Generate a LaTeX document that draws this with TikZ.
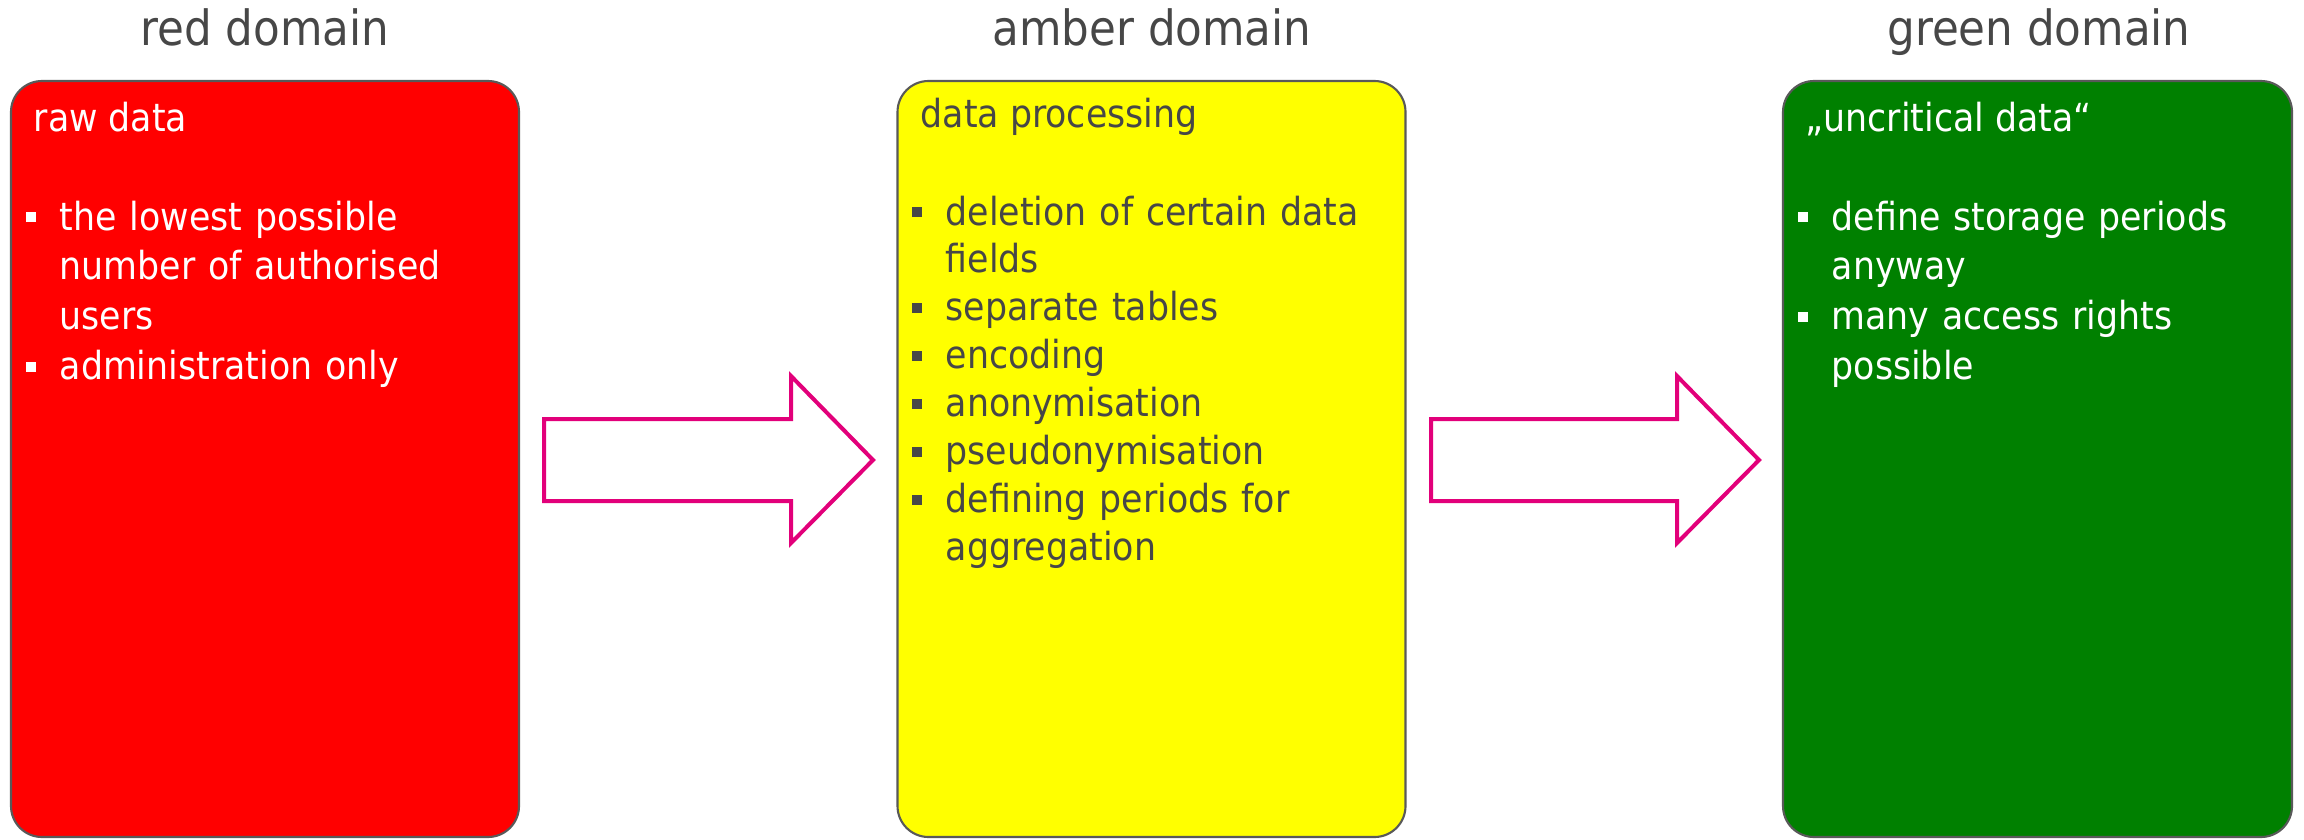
\documentclass[tikz,border=0pt]{standalone}
\usepackage{fontspec}
\setmainfont{DejaVu Sans Condensed}
\definecolor{textgray}{HTML}{474747}
\definecolor{boxgray}{HTML}{595959}
\definecolor{redfill}{HTML}{FF0000}
\definecolor{amberfill}{HTML}{FFFF00}
\definecolor{greenfill}{HTML}{008000}
\definecolor{arrowmagenta}{HTML}{E2007A}
\newcommand{\sq}{\leavevmode\llap{\rule[0.08cm]{0.1cm}{0.1cm}\hspace{0.24cm}}}
\tikzset{
  domainbox/.style={draw=boxgray, line width=0.6pt, rounded corners=0.31cm,
    minimum width=5.08cm, minimum height=7.56cm},
  domaintitle/.style={anchor=base, inner sep=0pt, text=textgray,
    font=\fontsize{13.8}{17}\selectfont},
  boxhead/.style={anchor=base west, inner sep=0pt,
    font=\fontsize{11}{14.2}\selectfont},
  itemtext/.style={anchor=base west, inner sep=0pt, align=left, text width=4.5cm,
    font=\fontsize{11}{14.2}\selectfont},
  blockarrow/.style={draw=arrowmagenta, line width=1.14pt}
}
\begin{document}
\begin{tikzpicture}
\useasboundingbox (0,0) rectangle (23.04,8.39);
% the three domains
\node[domainbox, fill=redfill] (red) at (2.65,3.80) {};
\node[domainbox, fill=amberfill] (amber) at (11.515,3.80) {};
\node[domainbox, fill=greenfill, minimum width=5.09cm] (green) at (20.375,3.80) {};
\node[domaintitle] (redtitle) at (2.65,7.94) {red domain};
\node[domaintitle] (ambertitle) at (11.52,7.94) {amber domain};
\node[domaintitle] (greentitle) at (20.39,7.94) {green domain};
% red
\node[boxhead, text=white] (rawdata) at (0.33,7.08) {raw data};
\node[itemtext, text=white] (redlist) at (0.59,6.09)
  {\sq the lowest possible\\number of authorised\\users\\\sq administration only};
% amber
\node[boxhead, text=textgray, font=\fontsize{11}{13.65}\selectfont] (processing) at (9.20,7.12) {data processing};
\node[itemtext, text=textgray, font=\fontsize{11}{13.65}\selectfont] (amberlist) at (9.45,6.14)
  {\sq deletion of certain data\\fields\\\sq separate tables\\\sq encoding\\\sq anonymisation\\\sq pseudonymisation\\\sq defining periods for\\aggregation};
% green
\node[boxhead, text=white] (uncritical) at (18.05,7.08) {„uncritical data“};
\node[itemtext, text=white] (greenlist) at (18.31,6.09)
  {\sq define storage periods\\anyway\\\sq many access rights\\possible};
% arrows
\draw[blockarrow] (5.44,4.20) -- (7.91,4.20) -- (7.91,4.63) -- (8.73,3.79)
  -- (7.91,2.96) -- (7.91,3.38) -- (5.44,3.38) -- cycle;
\draw[blockarrow] (14.31,4.20) -- (16.77,4.20) -- (16.77,4.63) -- (17.59,3.79)
  -- (16.77,2.96) -- (16.77,3.38) -- (14.31,3.38) -- cycle;
\end{tikzpicture}
\end{document}
